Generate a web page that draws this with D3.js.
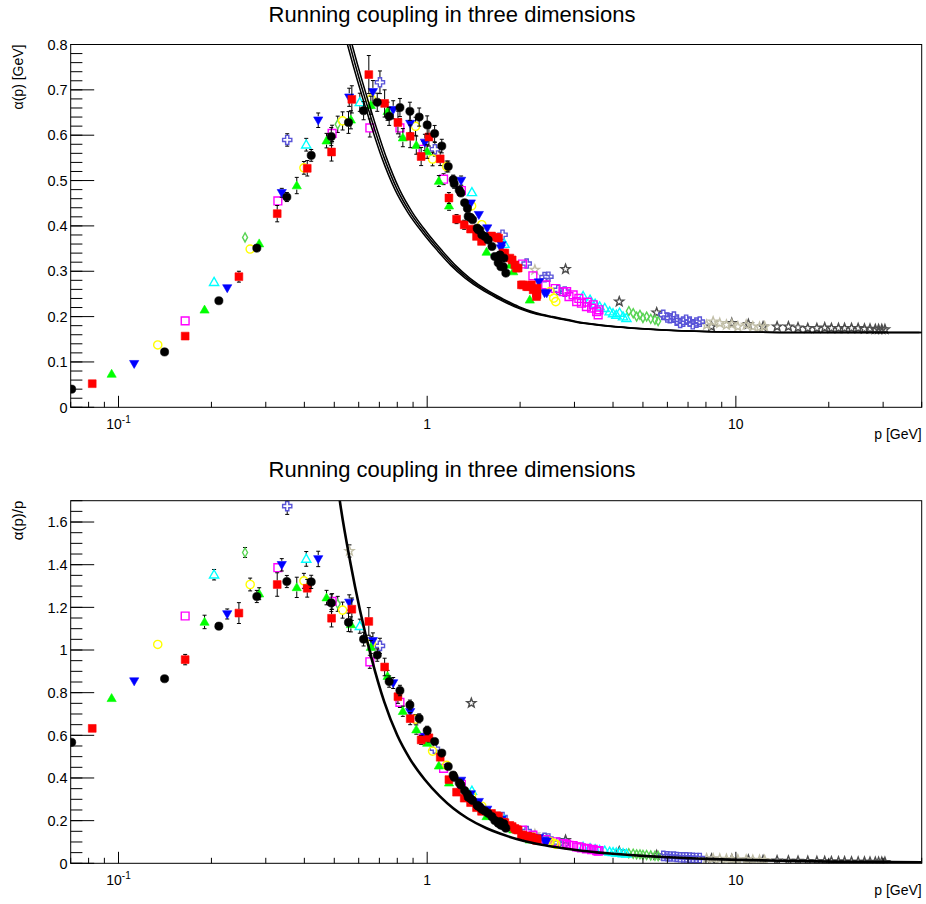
<!DOCTYPE html>
<html><head><meta charset="utf-8">
<script src="https://cdn.jsdelivr.net/npm/d3@7"></script>
<style>
body{margin:0;background:#fff;}
svg{display:block;font-family:"Liberation Sans",Arial,Helvetica,sans-serif;}
</style></head><body>
<script>
// ---- data: each point is [p (GeV), alpha(p) (GeV), error] ----
const latBlack = [[0.0705,0.040,0.001],[0.141,0.122,0.002],[0.2114,0.235,0.003],[0.2806,0.351,0.008],[0.351,0.4637,0.010],[0.421,0.5555,0.013],[0.489,0.597,0.02],[0.556,0.628,0.024],[0.6223,0.654,0.02],[0.689,0.6726,0.02],[0.753,0.6416,0.02],[0.816,0.661,0.02],[0.879,0.6527,0.02],[0.942,0.640,0.02],[1.0,0.6226,0.02],[1.057,0.6035,0.018],[1.115,0.576,0.015],[1.17,0.531,0.012],[1.214,0.502,0.01],[1.223,0.493,0.01],[1.27,0.479,0.009],[1.286,0.4725,0.009],[1.322,0.451,0.008],[1.35,0.4385,0.008],[1.358,0.421,0.008],[1.382,0.4186,0.007],[1.403,0.4136,0.007],[1.452,0.395,0.006],[1.463,0.3915,0.006],[1.48,0.391,0.006],[1.503,0.3805,0.006],[1.538,0.3767,0.005],[1.576,0.369,0.005],[1.621,0.3546,0.005],[1.656,0.3325,0.005],[1.698,0.319,0.005],[1.72,0.336,0.005],[1.733,0.31,0.005],[1.763,0.31,0.005],[1.772,0.329,0.005],[1.798,0.296,0.005]];
const latRed = [[0.0822,0.052,0.001],[0.1644,0.157,0.004],[0.2455,0.288,0.012],[0.3267,0.427,0.018],[0.4087,0.527,0.017],[0.49,0.563,0.02],[0.57,0.679,0.03],[0.647,0.7337,0.042],[0.728,0.670,0.03],[0.804,0.628,0.025],[0.881,0.5975,0.025],[0.956,0.553,0.02],[1.013,0.596,0.02],[1.102,0.548,0.015],[1.176,0.4615,0.012],[1.245,0.415,0.01],[1.318,0.4025,0.01],[1.382,0.393,0.008],[1.445,0.3767,0.007],[1.5,0.3657,0.006],[1.616,0.3777,0.005],[1.678,0.375,0.005],[1.703,0.373,0.005],[1.763,0.340,0.005],[1.785,0.340,0.005],[1.853,0.329,0.004],[1.885,0.325,0.004],[1.923,0.314,0.004],[1.948,0.307,0.004],[1.971,0.307,0.004],[2.02,0.270,0.004],[2.047,0.270,0.004],[2.1,0.266,0.003],[2.124,0.266,0.003],[2.176,0.270,0.003],[2.205,0.259,0.003],[2.26,0.2517,0.003],[2.27,0.2627,0.003],[2.27,0.248,0.003],[2.26,0.244,0.003]];
const latGreen = [[0.095,0.0735,0.001],[0.19,0.215,0.006],[0.2856,0.361,0.008],[0.378,0.489,0.018],[0.472,0.588,0.016],[0.566,0.634,0.02],[0.657,0.666,0.02],[0.744,0.6528,0.02],[0.834,0.5946,0.02],[0.922,0.578,0.02],[1.0,0.564,0.015],[1.091,0.499,0.012],[1.177,0.4445,0.01],[1.557,0.3425,0.006],[1.862,0.314,0.004],[1.9,0.2994,0.004],[2.15,0.237,0.003]];
const latBlue = [[0.1124,0.096,0.002],[0.225,0.263,0.0053],[0.338,0.473,0.0098],[0.4436,0.633,0.016],[0.559,0.6836,0.02],[0.667,0.6955,0.025],[0.776,0.656,0.02],[0.881,0.6255,0.02],[0.983,0.584,0.018],[1.288,0.5,0.01],[1.385,0.45,0.008],[1.47,0.4246,0.007],[1.565,0.395,0.006],[1.733,0.351,0.005],[1.742,0.358,0.005],[2.3,0.276,0.003],[2.4,0.252,0.003],[2.44,0.2517,0.003]];
const latYellow = [[0.134,0.1375,0.002],[0.267,0.349,0.008],[0.3987,0.528,0.014],[0.532,0.6315,0.02],[0.659,0.680,0.02],[0.917,0.6196,0.02],[1.041,0.5475,0.015],[1.156,0.531,0.012],[1.393,0.444,0.008],[1.503,0.4025,0.006],[2.5,0.255,0.003],[2.57,0.2407,0.003],[2.61,0.233,0.003]];
const latMagenta = [[0.1644,0.1906,0.003],[0.3283,0.455,0.006],[0.492,0.604,0.018],[0.652,0.616,0.02],[0.816,0.616,0.02],[0.97,0.569,0.018],[1.13,0.503,0.012],[1.29,0.478,0.01],[2.037,0.316,0.004],[2.2,0.29,0.003],[2.42,0.27,0.003],[2.6,0.262,0.003],[2.76,0.255,0.003],[2.83,0.255,0.003],[2.88,0.244,0.003],[2.97,0.248,0.003],[3.05,0.233,0.003],[3.1,0.24,0.003],[3.16,0.2296,0.003],[3.28,0.222,0.003],[3.3,0.232,0.003],[3.41,0.2186,0.003],[3.45,0.226,0.003],[3.54,0.211,0.003],[3.58,0.2038,0.003],[3.6,0.215,0.003]];
const latCyan = [[0.204,0.276,0.005],[0.4057,0.579,0.014],[0.605,0.6726,0.02],[1.396,0.474,0.008],[1.78,0.36,0.005],[3.2,0.245,0.003],[3.37,0.237,0.003],[3.5,0.228,0.003],[3.62,0.222,0.003],[3.76,0.2186,0.003],[3.9,0.211,0.003],[4.0,0.207,0.003],[4.1,0.2038,0.003],[4.2,0.208,0.003],[4.31,0.2,0.003],[4.42,0.1965,0.003]];
const latDarkGreen = [[0.257,0.3745,0.006],[0.513,0.624,0.018],[4.5,0.212,0.003],[4.65,0.2075,0.003],[4.77,0.2,0.003],[4.89,0.2038,0.003],[5.0,0.197,0.003],[5.14,0.2,0.003],[5.3,0.195,0.003],[5.47,0.1928,0.003],[5.6,0.19,0.003]];
const latSlate = [[0.352,0.5895,0.0137],[0.703,0.7167,0.025],[1.059,0.569,0.015],[1.754,0.3805,0.005],[2.1,0.317,0.004],[2.4,0.287,0.003],[2.47,0.288,0.003],[2.66,0.259,0.003],[2.79,0.255,0.003],[5.82,0.2038,0.003],[6.0,0.198,0.003],[6.11,0.1965,0.003],[6.3,0.2,0.003],[6.43,0.191,0.003],[6.6,0.186,0.003],[6.75,0.189,0.003],[6.9,0.193,0.003],[7.09,0.189,0.003],[7.25,0.183,0.003],[7.45,0.1868,0.003],[7.64,0.189,0.003]];
const latTan = [[0.56,0.82,0.016],[2.233,0.303,0.004],[8.04,0.1817,0.002],[8.44,0.189,0.002],[8.87,0.1855,0.002],[9.32,0.1817,0.002],[9.7,0.183,0.002],[10.15,0.178,0.002],[10.8,0.1817,0.002],[11.35,0.178,0.002],[11.93,0.1767,0.002],[12.4,0.178,0.002]];
const latGray = [[1.39,1.044,0.01],[2.807,0.3047,0.003],[4.19,0.233,0.003],[5.54,0.209,0.002],[8.34,0.178,0.002],[9.7,0.1855,0.002],[10.98,0.1833,0.002],[12.25,0.178,0.002],[13.6,0.178,0.002],[14.8,0.178,0.002],[15.9,0.176,0.002],[17.1,0.1744,0.002],[18.3,0.1744,0.002],[19.4,0.1757,0.002],[20.4,0.1744,0.002],[21.5,0.1744,0.002],[22.5,0.1744,0.002],[23.7,0.1744,0.002],[24.9,0.1744,0.002],[26.1,0.173,0.002],[27.2,0.173,0.002],[28.3,0.172,0.002],[29.0,0.172,0.002],[29.7,0.172,0.002],[30.4,0.172,0.002]];

// fitted coupling curve, [p, alpha(p)]
const fitCurve = [[0.50,0.95],[0.521,0.886],[0.5637,0.795],[0.605,0.72],[0.66,0.635],[0.7256,0.55],[0.80,0.48],[0.88,0.43],[0.983,0.385],[1.1,0.345],[1.214,0.313],[1.35,0.285],[1.557,0.256],[1.72,0.24],[1.948,0.222],[2.2,0.209],[2.5,0.2],[2.83,0.193],[3.12,0.187],[3.54,0.182],[4.0,0.178],[4.54,0.175],[5.14,0.1725],[5.82,0.1705],[6.58,0.169],[7.45,0.1678],[8.44,0.1668],[9.58,0.166],[11,0.1655],[13.9,0.165],[18,0.1648],[25,0.1647],[40,0.1647]];

// axis ticks and labels
const xDomain = [0.07, 40];
const xMajorTicks = [{v:0.1, base:"10", sup:"-1"}, {v:1, base:"1", sup:""}, {v:10, base:"10", sup:""}];
const topYTicks = [0,0.1,0.2,0.3,0.4,0.5,0.6,0.7,0.8];
const topYTickLabels = ["0","0.1","0.2","0.3","0.4","0.5","0.6","0.7","0.8"];
const botYTicks = [0,0.2,0.4,0.6,0.8,1.0,1.2,1.4,1.6];
const botYTickLabels = ["0","0.2","0.4","0.6","0.8","1","1.2","1.4","1.6"];
const chartTitle = "Running coupling in three dimensions";

// ---- drawing styles per lattice series ----
const seriesList = [
  {data: latBlack,     color: "#000000", marker: "circle",  filled: true},
  {data: latRed,       color: "#ff0000", marker: "square",  filled: true},
  {data: latGreen,     color: "#00ff00", marker: "triUp",   filled: true},
  {data: latBlue,      color: "#0000ff", marker: "triDown", filled: true},
  {data: latYellow,    color: "#ffff00", marker: "circle",  filled: false},
  {data: latMagenta,   color: "#ff00ff", marker: "square",  filled: false},
  {data: latCyan,      color: "#00ffff", marker: "triUp",   filled: false},
  {data: latDarkGreen, color: "#59d454", marker: "diamond", filled: false},
  {data: latSlate,     color: "#5954d8", marker: "cross",   filled: false},
  {data: latTan,       color: "#c2bfa8", marker: "star",    filled: false},
  {data: latGray,      color: "#4d4d4d", marker: "star",    filled: false}
];

function markerPath(type) {
  switch (type) {
    case "circle": { const r = 4.1; return `M${-r},0A${r},${r} 0 1,0 ${r},0A${r},${r} 0 1,0 ${-r},0Z`; }
    case "square": return "M-3.9,-3.9H3.9V3.9H-3.9Z";
    case "triUp": return "M0,-4.7L4.6,3.3H-4.6Z";
    case "triDown": return "M0,4.7L4.6,-3.3H-4.6Z";
    case "diamond": return "M0,-4.5L2.5,0L0,4.5L-2.5,0Z";
    case "cross": { const a = 1.6, b = 4.6;
      return `M${-a},${-b}H${a}V${-a}H${b}V${a}H${a}V${b}H${-a}V${a}H${-b}V${-a}H${-a}Z`; }
    case "star": {
      const pts = [];
      for (let i = 0; i < 10; i++) {
        const r = i % 2 === 0 ? 4.8 : 2.0;
        const ang = -Math.PI / 2 + i * Math.PI / 5;
        pts.push([r * Math.cos(ang), r * Math.sin(ang)]);
      }
      return "M" + pts.map(p => p[0].toFixed(2) + "," + p[1].toFixed(2)).join("L") + "Z";
    }
  }
}

const W = 926, H = 904;
const svg = d3.select("body").append("svg").attr("width", W).attr("height", H);
const plotLeft = 70.7, plotRight = 921.7;
const x = d3.scaleLog().domain(xDomain).range([plotLeft, plotRight]);

const panels = [
  {top: 44.5, bottom: 407.3, ymax: 0.8, value: d => d[1], err: d => d[2],
   ticks: topYTicks, labels: topYTickLabels, minorStep: 0.02, ytitle: "α(p) [GeV]", ytitleSize: 14,
   titleY: 21.5, xlabY: 428.5, xtitleY: 439, triple: true},
  {top: 500.7, bottom: 863.3, ymax: 1.7, value: d => d[1] / d[0], err: d => d[2] / d[0],
   ticks: botYTicks, labels: botYTickLabels, minorStep: 0.05, ytitle: "α(p)/p", ytitleSize: 15,
   titleY: 476.5, xlabY: 884.5, xtitleY: 895, triple: false}
];

panels.forEach((P, pi) => {
  const y = d3.scaleLinear().domain([0, P.ymax]).range([P.bottom, P.top]);
  const g = svg.append("g");
  const clipId = "clip" + pi;
  svg.append("clipPath").attr("id", clipId).append("rect")
    .attr("x", plotLeft).attr("y", P.top).attr("width", plotRight - plotLeft).attr("height", P.bottom - P.top);

  // title
  g.append("text").attr("x", 452).attr("y", P.titleY).attr("text-anchor", "middle")
    .attr("font-size", 22).attr("fill", "#000").text(chartTitle);

  // data (first lattice drawn last, on top)
  const dataG = g.append("g").attr("clip-path", `url(#${clipId})`);
  seriesList.slice().reverse().forEach(s => {
    const sg = dataG.append("g");
    sg.selectAll("path.err").data(s.data).join("path").attr("class", "err")
      .attr("d", d => {
        const cx = x(d[0]), cy = y(P.value(d));
        const e = Math.abs(y(P.value(d) + P.err(d)) - cy);
        if (e <= 4.2) return null;
        return `M${cx},${cy - e}V${cy - 4}M${cx},${cy + 4}V${cy + e}` +
               `M${cx - 2},${cy - e}H${cx + 2}M${cx - 2},${cy + e}H${cx + 2}`;
      })
      .attr("stroke", "#000").attr("stroke-width", 1).attr("fill", "none");
    sg.selectAll("path.mk").data(s.data).join("path").attr("class", "mk")
      .attr("d", markerPath(s.marker))
      .attr("transform", d => `translate(${x(d[0])},${y(P.value(d))})`)
      .attr("fill", s.filled ? s.color : "none")
      .attr("stroke", s.color)
      .attr("stroke-width", s.filled ? 0.6 : 1.4);
  });

  // fitted curve
  const line = d3.line().x(d => x(d[0])).y(d => y(P.value(d))).curve(d3.curveMonotoneX);
  const curveG = g.append("g").attr("clip-path", `url(#${clipId})`);
  if (P.triple) {
    [-2.3, 0, 2.3].forEach(dx => {
      curveG.append("path").datum(fitCurve).attr("d", line)
        .attr("transform", `translate(${dx},0)`)
        .attr("fill", "none").attr("stroke", "#000").attr("stroke-width", 1.5);
    });
  } else {
    curveG.append("path").datum(fitCurve).attr("d", line)
      .attr("fill", "none").attr("stroke", "#000").attr("stroke-width", 2.6);
  }

  // frame
  g.append("rect").attr("x", plotLeft).attr("y", P.top).attr("width", plotRight - plotLeft)
    .attr("height", P.bottom - P.top).attr("fill", "none").attr("stroke", "#000").attr("stroke-width", 1);

  // y ticks
  const minor = d3.range(0, P.ymax + 1e-9, P.minorStep);
  g.selectAll("line.ymin").data(minor).join("line")
    .attr("x1", plotLeft).attr("x2", plotLeft + 11.7)
    .attr("y1", d => y(d)).attr("y2", d => y(d)).attr("stroke", "#000");
  g.selectAll("line.ymaj").data(P.ticks).join("line")
    .attr("x1", plotLeft).attr("x2", plotLeft + 23.5)
    .attr("y1", d => y(d)).attr("y2", d => y(d)).attr("stroke", "#000");
  g.selectAll("text.ylab").data(P.ticks).join("text")
    .attr("x", plotLeft - 3).attr("y", d => y(d)).attr("dy", "0.36em")
    .attr("text-anchor", "end").attr("font-size", 14.5).text((d, i) => P.labels[i]);

  // x ticks (log)
  const xMinor = [];
  for (let dec = -2; dec <= 1; dec++) for (let k = 2; k <= 9; k++) {
    const v = k * Math.pow(10, dec);
    if (v >= xDomain[0] && v <= xDomain[1]) xMinor.push(v);
  }
  g.selectAll("line.xmin").data(xMinor).join("line")
    .attr("x1", d => x(d)).attr("x2", d => x(d))
    .attr("y1", P.bottom).attr("y2", P.bottom - 5.5).attr("stroke", "#000");
  g.selectAll("line.xmaj").data(xMajorTicks).join("line")
    .attr("x1", d => x(d.v)).attr("x2", d => x(d.v))
    .attr("y1", P.bottom).attr("y2", P.bottom - 11.5).attr("stroke", "#000");
  const xl = g.selectAll("text.xlab").data(xMajorTicks).join("text")
    .attr("x", d => x(d.v)).attr("y", P.xlabY).attr("text-anchor", "middle").attr("font-size", 14);
  xl.append("tspan").text(d => d.base);
  xl.filter(d => d.sup).append("tspan").attr("font-size", 10).attr("dy", "-0.6em").text(d => d.sup);

  // axis titles
  g.append("text").attr("transform", `translate(23,${P.top}) rotate(-90)`)
    .attr("text-anchor", "end").attr("font-size", P.ytitleSize).text(P.ytitle);
  g.append("text").attr("x", plotRight).attr("y", P.xtitleY).attr("text-anchor", "end")
    .attr("font-size", 14).text("p [GeV]");
});
</script></body></html>
